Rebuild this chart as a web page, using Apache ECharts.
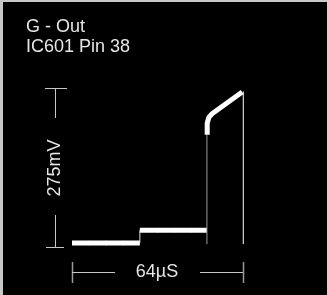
<!DOCTYPE html>
<html lang="en">
<head>
    <meta charset="UTF-8">
    <title>G - Out</title>
    <script src="https://cdn.jsdelivr.net/npm/echarts@6/dist/echarts.min.js"></script>
    <style>
        html, body { margin: 0; padding: 0; background: #c8c8c8; }
        #main { position: absolute; left: 3px; top: 2px; width: 324px; height: 293px; }
    </style>
</head>
<body>
    <div id="main"></div>
    <script type="text/javascript">
        // waveform pieces, x in µs (0..64), y in mV (0..275)
        const lowBar = [[0, 7], [25.4, 7]];
        const stepUp = [[25.4, 7], [25.4, 29]];
        const midBar = [[25.4, 29], [50.5, 29]];
        const jumpLine = [[50.5, 5], [50.5, 194]];
        const ramp = [[50.6, 194], [50.6, 214], [51.2, 224], [52.3, 230], [63.7, 268]];
        const endLine = [[64.1, 269], [64.1, 5]];
        // graticule division marks showing through the bars
        const divMarks = [[6.4, 7], [12.8, 7], [19.2, 7], [32, 29], [38.4, 29], [44.8, 29]];

        const titleLines = ['G - Out', 'IC601 Pin 38'];
        const voltLabel = '275mV';
        const timeLabel = '64\u00b5S';

        const ox = 3, oy = 2; // offset of chart div in the page
        const lineCol = '#c8c8c8';
        const txtCol = '#e6e6e6';

        function thick(data) {
            return { type: 'line', data: data, symbol: 'none', clip: false, silent: true,
                lineStyle: { color: '#ffffff', width: 5, cap: 'butt' } };
        }
        function thin(data, col) {
            return { type: 'line', data: data, symbol: 'none', clip: false, silent: true,
                lineStyle: { color: col, width: 1 } };
        }

        let myChart = echarts.init(document.getElementById('main'));
        let options = {
            backgroundColor: '#000000',
            animation: false,
            grid: { left: 72 - ox, right: 327 - 243, top: 88 - oy, bottom: 295 - 247 },
            xAxis: { type: 'value', min: 0, max: 64, show: false },
            yAxis: { type: 'value', min: 0, max: 275, show: false },
            graphic: [
                { type: 'text', left: 26 - ox, top: 17 - oy,
                  style: { text: titleLines.join('\n'), fill: txtCol, font: '18px "Liberation Sans", Arial', lineHeight: 20 } },
                // vertical scale bar
                { type: 'line', shape: { x1: 45 - ox, y1: 88.5 - oy, x2: 67 - ox, y2: 88.5 - oy }, style: { stroke: lineCol, lineWidth: 1 } },
                { type: 'line', shape: { x1: 55.5 - ox, y1: 88 - oy, x2: 55.5 - ox, y2: 118 - oy }, style: { stroke: lineCol, lineWidth: 1 } },
                { type: 'line', shape: { x1: 55.5 - ox, y1: 215 - oy, x2: 55.5 - ox, y2: 247 - oy }, style: { stroke: lineCol, lineWidth: 1 } },
                { type: 'line', shape: { x1: 46 - ox, y1: 247.5 - oy, x2: 64 - ox, y2: 247.5 - oy }, style: { stroke: lineCol, lineWidth: 1 } },
                { type: 'text', x: 55 - ox, y: 168 - oy, rotation: Math.PI / 2,
                  style: { text: voltLabel, fill: txtCol, font: '18px "Liberation Sans", Arial', align: 'center', verticalAlign: 'middle' } },
                // horizontal scale bar
                { type: 'line', shape: { x1: 72.5 - ox, y1: 262 - oy, x2: 72.5 - ox, y2: 283 - oy }, style: { stroke: '#999', lineWidth: 1.5 } },
                { type: 'line', shape: { x1: 72 - ox, y1: 272.5 - oy, x2: 115 - ox, y2: 272.5 - oy }, style: { stroke: lineCol, lineWidth: 1 } },
                { type: 'line', shape: { x1: 200 - ox, y1: 272.5 - oy, x2: 243 - ox, y2: 272.5 - oy }, style: { stroke: lineCol, lineWidth: 1 } },
                { type: 'line', shape: { x1: 243.5 - ox, y1: 262 - oy, x2: 243.5 - ox, y2: 283 - oy }, style: { stroke: '#999', lineWidth: 1.5 } },
                { type: 'text', x: 157 - ox, y: 272 - oy,
                  style: { text: timeLabel, fill: txtCol, font: '18px "Liberation Sans", Arial', align: 'center', verticalAlign: 'middle' } }
            ],
            series: [
                thick(lowBar),
                thin(stepUp, '#dddddd'),
                thick(midBar),
                thin(jumpLine, '#9a9a9a'),
                thick(ramp),
                thin(endLine, '#ffffff'),
                { type: 'scatter', data: divMarks, symbol: 'rect', symbolSize: [1, 5], silent: true,
                  itemStyle: { color: '#9a9a9a' } }
            ]
        };
        myChart.setOption(options);
    </script>
</body>
</html>
